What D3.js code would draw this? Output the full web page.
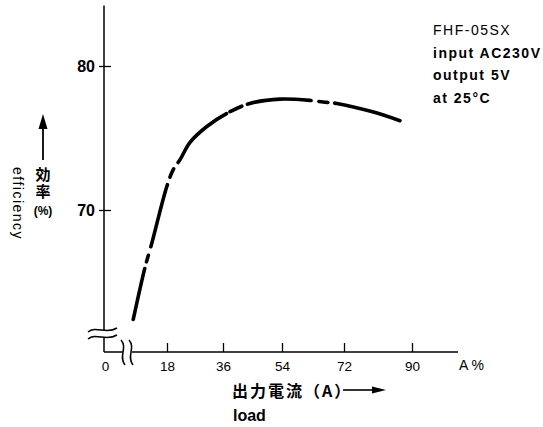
<!DOCTYPE html>
<html>
<head>
<meta charset="utf-8">
<script src="https://cdn.jsdelivr.net/npm/d3@7"></script>
<style>
  body { margin: 0; background: #fff; }
  svg { display: block; }
  .lat { font-family: "Liberation Sans", Arial, sans-serif; fill: #000; }
  .cjk { font-family: "Noto Sans CJK JP", sans-serif; fill: #000; }
</style>
</head>
<body>
<div id="chart"></div>
<script>
// load in % (A %) and efficiency in %
const loadPct = [8.2, 11.6, 13.6, 17.9, 20.0, 22.2, 25.4, 30.8, 37.1, 44.2, 53.4, 62.6, 65.9, 69.9, 79.8, 86.8];
const effPct  = [62.4, 66.0, 67.7, 71.6, 72.8, 73.5, 74.7, 75.8, 76.7, 77.4, 77.7, 77.6, 77.5, 77.4, 76.8, 76.2];

const xTicks = [0, 18, 36, 54, 72, 90];
const yTicks = [70, 80];
const infoLines = ["FHF-05SX", "input AC230V", "output 5V", "at 25°C"];

const w = 543, h = 427;

const svg = d3.select("#chart").append("svg")
  .attr("width", w)
  .attr("height", h);

/** scales - the printed x axis is slightly uneven, so keep it piecewise */
const x = d3.scaleLinear()
  .domain(xTicks)
  .range([105, 167, 223, 282, 344, 412]);

const y = d3.scaleLinear()
  .domain([70, 80])
  .range([210, 66]);

const axisY = 352;   // position of the x axis line
const axisX = 104;   // position of the y axis line

/** x axis */
const xAxis = d3.axisBottom(x)
  .tickValues(xTicks)
  .tickFormat(d3.format("d"))
  .tickSizeInner(-9)
  .tickSizeOuter(0)
  .tickPadding(9);

const gx = svg.append("g")
  .attr("transform", "translate(0," + axisY + ")")
  .call(xAxis);
gx.select(".domain").remove();
gx.selectAll(".tick line").attr("stroke", "#000").attr("stroke-width", 1.3)
  .filter(d => d === 0).remove();
gx.selectAll(".tick text")
  .attr("class", "lat")
  .style("font-size", "13.5px")
  .attr("fill", "#000");

/** y axis */
const yAxis = d3.axisLeft(y)
  .tickValues(yTicks)
  .tickSizeInner(-7)
  .tickSizeOuter(0)
  .tickPadding(9);

const gy = svg.append("g")
  .attr("transform", "translate(" + axisX + ",0)")
  .call(yAxis);
gy.select(".domain").remove();
gy.selectAll(".tick line").attr("x1", -5).attr("stroke", "#000").attr("stroke-width", 1.3);
gy.selectAll(".tick text")
  .attr("class", "lat")
  .style("font-size", "16px")
  .style("font-weight", "bold")
  .attr("fill", "#000");

/** axis lines with breaks */
const axisLines = svg.append("g")
  .attr("stroke", "#000")
  .attr("stroke-width", 1.5)
  .attr("fill", "none");

axisLines.append("line")
  .attr("x1", axisX).attr("x2", axisX)
  .attr("y1", y(84.2)).attr("y2", 330);
axisLines.append("line")
  .attr("x1", axisX).attr("x2", axisX)
  .attr("y1", 337).attr("y2", axisY);
axisLines.append("line")
  .attr("x1", axisX).attr("x2", 123)
  .attr("y1", axisY).attr("y2", axisY);
axisLines.append("line")
  .attr("x1", 132).attr("x2", 458)
  .attr("y1", axisY).attr("y2", axisY);

// break marks on the y axis
[330, 337].forEach(function(yy) {
  axisLines.append("path")
    .attr("d", "M" + (axisX - 16) + "," + (yy + 2) +
      " C" + (axisX - 8) + "," + (yy - 5) + " " + (axisX + 2) + "," + (yy + 5) + " " + (axisX + 13) + "," + (yy - 2));
});
// break marks on the x axis
[123, 131].forEach(function(xx) {
  axisLines.append("path")
    .attr("d", "M" + (xx - 2) + "," + (axisY - 12) +
      " C" + (xx + 5) + "," + (axisY - 4) + " " + (xx - 5) + "," + (axisY + 4) + " " + (xx + 2) + "," + (axisY + 13));
});

/** efficiency curve */
const line = d3.line()
  .x((d, i) => x(loadPct[i]))
  .y(d => y(d))
  .curve(d3.curveCatmullRom);

svg.append("path")
  .datum(effPct)
  .attr("d", line)
  .attr("fill", "none")
  .attr("stroke", "#000")
  .attr("stroke-width", 3.6)
  .attr("stroke-linecap", "round")
  .attr("stroke-dasharray", "52,7,7,9,64,8,9,8,70,4,13,6,64,8,9,7,80");

/** unit at the end of the x axis */
svg.append("text")
  .attr("class", "lat")
  .attr("x", 459).attr("y", 370)
  .style("font-size", "14px")
  .text("A %");

/** x label */
svg.append("text")
  .attr("class", "cjk")
  .attr("x", 232).attr("y", 397)
  .style("font-size", "16px")
  .style("font-weight", "bold")
  .style("letter-spacing", "2px")
  .text("出力電流（A）");

svg.append("line")
  .attr("x1", 343).attr("x2", 374)
  .attr("y1", 390).attr("y2", 390)
  .attr("stroke", "#000").attr("stroke-width", 1.6);
svg.append("path")
  .attr("d", "M372,386.5 L386,390 L372,393.5 Z")
  .attr("fill", "#000");

svg.append("text")
  .attr("class", "lat")
  .attr("x", 233).attr("y", 421)
  .style("font-size", "16px")
  .style("font-weight", "bold")
  .text("load");

/** y label */
svg.append("line")
  .attr("x1", 43).attr("x2", 43)
  .attr("y1", 126).attr("y2", 160)
  .attr("stroke", "#000").attr("stroke-width", 1.8);
svg.append("path")
  .attr("d", "M38.5,129 L43,114 L47.5,129 Z")
  .attr("fill", "#000");

svg.append("text")
  .attr("class", "cjk")
  .attr("x", 43).attr("y", 167)
  .style("writing-mode", "vertical-rl")
  .style("font-size", "15px")
  .style("font-weight", "bold")
  .style("letter-spacing", "2px")
  .text("効率");
svg.append("text")
  .attr("class", "lat")
  .attr("x", 43).attr("y", 215)
  .attr("text-anchor", "middle")
  .style("font-size", "12px")
  .style("font-weight", "bold")
  .text("(%)");

svg.append("text")
  .attr("class", "lat")
  .attr("transform", "translate(13,167) rotate(90)")
  .style("font-size", "14px")
  .style("letter-spacing", "1.5px")
  .text("efficiency");

/** info block */
svg.append("g")
  .selectAll("text")
  .data(infoLines)
  .join("text")
  .attr("class", "lat")
  .attr("x", 433)
  .attr("y", (d, i) => 35 + i * 22.7)
  .style("font-size", "14px")
  .style("font-weight", (d, i) => i === 0 ? "normal" : "bold")
  .style("letter-spacing", "1.5px")
  .text(d => d);
</script>
</body>
</html>
